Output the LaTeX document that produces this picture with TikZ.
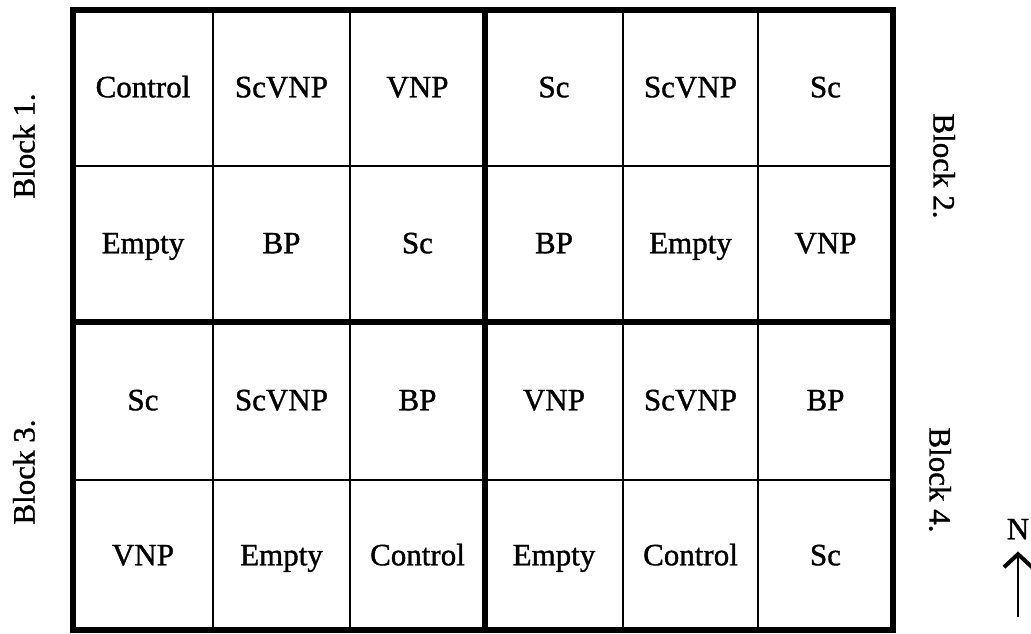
\documentclass[tikz,border=0pt]{standalone}
\usepackage{fontspec}
\setmainfont{Liberation Serif}
\newfontface\scanface{Liberation Serif}[FakeBold=1.2]
\usetikzlibrary{arrows.meta}
\begin{document}
\begin{tikzpicture}[x=1pt,y=-1pt,
  gridthin/.style={line width=2.2pt},
  gridthick/.style={line width=6pt},
  cell/.style={font=\fontsize{31}{36}\scanface, inner sep=0pt,
    text height=20.5pt, text depth=0pt},
  blocklabel/.style={font=\fontsize{31}{36}\scanface, inner sep=0pt,
    text height=21pt, text depth=0pt},
  northarrow/.style={line width=2.8pt,
    -{Straight Barb[length=13pt,width=28pt,line width=4pt]}}]
\useasboundingbox (0,0) rectangle (1031,633);

% column and row edges of the plot grid
\def\xa{73}\def\xb{213}\def\xc{350}\def\xd{485}\def\xe{623}\def\xf{758}\def\xg{893}
\def\ya{10}\def\yb{166}\def\yc{322}\def\yd{480}\def\ye{630}

% thin plot boundaries
\draw[gridthin] (\xb,\ya) -- (\xb,\ye);
\draw[gridthin] (\xc,\ya) -- (\xc,\ye);
\draw[gridthin] (\xe,\ya) -- (\xe,\ye);
\draw[gridthin] (\xf,\ya) -- (\xf,\ye);
\draw[gridthin] (\xa,\yb) -- (\xg,\yb);
\draw[gridthin] (\xa,\yd) -- (\xg,\yd);

% block boundaries
\draw[gridthick] (\xd,\ya) -- (\xd,\ye);
\draw[gridthick] (\xa,\yc) -- (\xg,\yc);
\draw[gridthick] (\xa,\ya) rectangle (\xg,\ye);

% row 1
\node[cell] (r1c1) at (143,87) {Control};
\node[cell] (r1c2) at (281.5,87) {ScVNP};
\node[cell] (r1c3) at (417.5,87) {VNP};
\node[cell] (r1c4) at (554,87) {Sc};
\node[cell] (r1c5) at (690.5,87) {ScVNP};
\node[cell] (r1c6) at (825.5,87) {Sc};
% row 2
\node[cell] (r2c1) at (143,243) {Empty};
\node[cell] (r2c2) at (281.5,243) {BP};
\node[cell] (r2c3) at (417.5,243) {Sc};
\node[cell] (r2c4) at (554,243) {BP};
\node[cell] (r2c5) at (690.5,243) {Empty};
\node[cell] (r2c6) at (825.5,243) {VNP};
% row 3
\node[cell] (r3c1) at (143,400) {Sc};
\node[cell] (r3c2) at (281.5,400) {ScVNP};
\node[cell] (r3c3) at (417.5,400) {BP};
\node[cell] (r3c4) at (554,400) {VNP};
\node[cell] (r3c5) at (690.5,400) {ScVNP};
\node[cell] (r3c6) at (825.5,400) {BP};
% row 4
\node[cell] (r4c1) at (143,555) {VNP};
\node[cell] (r4c2) at (281.5,555) {Empty};
\node[cell] (r4c3) at (417.5,555) {Control};
\node[cell] (r4c4) at (554,555) {Empty};
\node[cell] (r4c5) at (690.5,555) {Control};
\node[cell] (r4c6) at (825.5,555) {Sc};

% block labels
\node[blocklabel, rotate=90]  (blk1) at (24,146) {Block 1.};
\node[blocklabel, rotate=-90] (blk2) at (944,166) {Block 2.};
\node[blocklabel, rotate=90]  (blk3) at (24,472) {Block 3.};
\node[blocklabel, rotate=-90] (blk4) at (940,480) {Block 4.};

% north arrow
\node[cell] (north) at (1018,529) {N};
\coordinate (tail) at (1018,617);
\draw[northarrow] (tail) -- ([yshift=-12pt]north.south);
\end{tikzpicture}
\end{document}
